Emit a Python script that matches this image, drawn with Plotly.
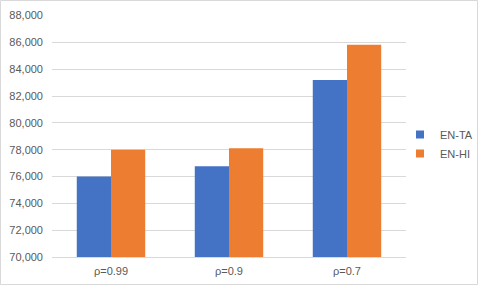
import plotly.graph_objects as go

categories = ["ρ=0.99", "ρ=0.9", "ρ=0.7"]
en_ta = [76000, 76760, 83200]
en_hi = [78000, 78100, 85830]
tick_vals = list(range(70000, 88001, 2000))
series_names = ["EN-TA", "EN-HI"]
colors = ["#4472C4", "#ED7D31"]

W, H = 478, 285
L, R, T, B = 52, 72, 15, 28
pw, ph = W - L - R, H - T - B

fig = go.Figure()
for name, vals, col in zip(series_names, [en_ta, en_hi], colors):
    fig.add_bar(name=name, x=categories, y=vals, marker_color=col,
                marker_line_width=0, showlegend=False)
# legend entries with small square swatches
for name, col in zip(series_names, colors):
    fig.add_scatter(name=name, x=[None], y=[None], mode="markers",
                    marker=dict(symbol="square", size=8, color=col))

fig.update_layout(
    width=W, height=H,
    margin=dict(l=L, r=R, t=T, b=B, autoexpand=False),
    paper_bgcolor="white", plot_bgcolor="white",
    barmode="group", bargap=0.42, bargroupgap=0,
    font=dict(family="Liberation Sans, Arial, sans-serif", size=11, color="#595959"),
    legend=dict(x=(400 - 52) / pw, y=(257 - 144) / ph, xanchor="left", yanchor="middle",
                font=dict(family="Liberation Sans, Arial, sans-serif", size=11, color="#595959"),
                itemwidth=30, tracegroupgap=4, bgcolor="rgba(0,0,0,0)"),
    xaxis=dict(showgrid=False, showline=True, linecolor="#d9d9d9", linewidth=1,
               ticks="", ticklabelstandoff=4, automargin=False),
    yaxis=dict(range=[70000, 88040], tickvals=tick_vals, tickformat=",",
               showgrid=True, gridcolor="#d9d9d9", gridwidth=1, zeroline=False,
               showline=False, ticks="", ticklabelstandoff=8, automargin=False),
    shapes=[dict(type="rect", xref="paper", yref="paper",
                 x0=-L / pw + 0.5 / pw, x1=1 + (R - 0.5) / pw,
                 y0=-(B - 0.5) / ph, y1=1 + (T - 0.5) / ph,
                 line=dict(color="#d9d9d9", width=1), layer="below")],
)

fig.write_html("out.html", config={"displayModeBar": False},
               post_script="document.body.style.margin='0';")
